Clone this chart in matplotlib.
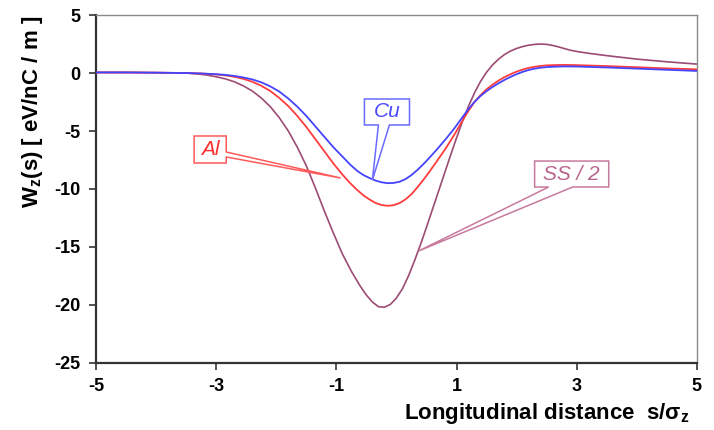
import matplotlib
matplotlib.use('Agg')
import matplotlib.pyplot as plt
from matplotlib.patches import Polygon

plt.rcParams['font.family'] = ['Liberation Sans', 'DejaVu Sans']
plt.rcParams['mathtext.fontset'] = 'custom'
plt.rcParams['mathtext.rm'] = 'Liberation Sans:bold'
plt.rcParams['mathtext.default'] = 'rm'

# longitudinal wake (s in units of sigma_z)
s_cu = [-5, -4.5, -4, -3.5, -3.25, -3.0, -2.85, -2.7, -2.55, -2.4, -2.25, -2.1, -1.95, -1.8,
        -1.65, -1.5, -1.35, -1.2, -1.05, -0.9, -0.77, -0.65, -0.55, -0.45, -0.35, -0.25,
        -0.15, -0.05, 0.05, 0.15, 0.25, 0.35, 0.45, 0.55, 0.68, 0.82, 0.96, 1.1, 1.2, 1.3,
        1.4, 1.5, 1.6, 1.7, 1.8, 1.9, 2.0, 2.1, 2.2, 2.3, 2.4, 2.5, 2.6, 2.8, 3.0, 3.5,
        4.0, 4.5, 5.0]
w_cu = [0.05, 0.05, 0.03, 0.0, -0.04, -0.1, -0.16, -0.25, -0.38, -0.55, -0.8, -1.15, -1.6, -2.2,
        -2.9, -3.7, -4.6, -5.5, -6.4, -7.2, -7.9, -8.45, -8.8, -9.05, -9.27, -9.42,
        -9.5, -9.48, -9.38, -9.15, -8.8, -8.35, -7.85, -7.3, -6.55, -5.7, -4.8, -3.8, -3.1, -2.48,
        -1.98, -1.56, -1.2, -0.88, -0.59, -0.33, -0.1, 0.1, 0.26, 0.38, 0.46, 0.51, 0.54, 0.57, 0.56, 0.48,
        0.38, 0.28, 0.18]

s_al = [-5, -4.5, -4, -3.5, -3.25, -3.0, -2.85, -2.7, -2.55, -2.4, -2.25, -2.1, -1.95, -1.8,
        -1.65, -1.5, -1.35, -1.2, -1.05, -0.9, -0.77, -0.65, -0.55, -0.45, -0.35, -0.25,
        -0.15, -0.05, 0.05, 0.15, 0.25, 0.35, 0.45, 0.55, 0.68, 0.82, 0.96, 1.1, 1.2, 1.3,
        1.4, 1.5, 1.6, 1.7, 1.8, 1.9, 2.0, 2.1, 2.2, 2.3, 2.4, 2.5, 2.65, 2.8, 3.0, 3.5,
        4.0, 4.5, 5.0]
w_al = [0.05, 0.05, 0.03, 0.0, -0.04, -0.12, -0.2, -0.32, -0.5, -0.75, -1.1, -1.55, -2.15, -2.85,
        -3.7, -4.65, -5.7, -6.75, -7.8, -8.75, -9.5, -10.1, -10.55, -10.9, -11.2, -11.38,
        -11.45, -11.4, -11.22, -10.9, -10.45, -9.85, -9.2, -8.5, -7.55, -6.5, -5.35, -4.1, -3.25, -2.5,
        -1.9, -1.4, -1.0, -0.65, -0.35, -0.1, 0.12, 0.3, 0.44, 0.54, 0.61, 0.66, 0.69, 0.7, 0.68, 0.6,
        0.5, 0.4, 0.32]

s_ss = [-5, -4.5, -4, -3.5, -3.3, -3.15, -3.0, -2.85, -2.7, -2.55, -2.4, -2.25, -2.1, -1.95,
        -1.8, -1.65, -1.5, -1.35, -1.2, -1.05, -0.9, -0.75, -0.6, -0.5, -0.4, -0.3, -0.2,
        -0.1, 0.0, 0.1, 0.2, 0.3, 0.4, 0.5, 0.6, 0.7, 0.8, 0.9, 1.0, 1.1, 1.2, 1.3, 1.4,
        1.5, 1.6, 1.7, 1.8, 1.9, 2.0, 2.1, 2.2, 2.3, 2.4, 2.5, 2.6, 2.7, 2.8, 2.9, 3.0,
        3.2, 3.5, 4.0, 4.5, 5.0]
w_ss = [0.05, 0.05, 0.03, 0.0, -0.08, -0.18, -0.32, -0.5, -0.75, -1.1, -1.55, -2.15, -2.9, -3.85,
        -5.0, -6.4, -8.0, -9.9, -11.9, -13.8, -15.6, -17.1, -18.4, -19.15, -19.75, -20.15, -20.2,
        -19.95, -19.4, -18.6, -17.5, -16.2, -14.8, -13.3, -11.75, -10.2, -8.65, -7.1, -5.6, -4.15, -2.85, -1.7, -0.72,
        0.07, 0.7, 1.2, 1.6, 1.9, 2.12, 2.28, 2.4, 2.47, 2.5, 2.47, 2.38, 2.25, 2.1, 1.96, 1.86,
        1.7, 1.5, 1.2, 0.97, 0.77]

x_ticks = [-5, -3, -1, 1, 3, 5]
y_ticks = [-25, -20, -15, -10, -5, 0, 5]

c_cu, c_al, c_ss = '#4444ff', '#ff3c3c', '#9c4c74'


def callout(ax, box, base, tip, label, color, txtcolor):
    # box = (x0, y0, x1, y1); base = two points on the box edge; tip = pointed end
    x0, y0, x1, y1 = box
    b1, b2 = base
    if b1[1] == y0:      # pointer from bottom edge
        pts = [(x0, y1), (x1, y1), (x1, y0), b2, tip, b1, (x0, y0)]
    else:                # pointer from right edge
        pts = [(x0, y1), (x1, y1), b1, tip, b2, (x1, y0), (x0, y0)]
    ax.add_patch(Polygon(pts, closed=True, fc='white', ec=color, lw=1.1, zorder=5))
    ax.text((x0 + x1) / 2, (y0 + y1) / 2, label, color=txtcolor, style='italic',
            fontsize=15, ha='center', va='center', zorder=6)


fig = plt.figure(figsize=(7.14, 4.30), dpi=100)
ax = fig.add_axes([0.1345, 0.156, 0.8415, 0.809])

ax.plot(s_ss, w_ss, color=c_ss, lw=1.2, zorder=2)
ax.plot(s_al, w_al, color=c_al, lw=1.3, zorder=3)
ax.plot(s_cu, w_cu, color=c_cu, lw=1.3, zorder=4)

callout(ax, (-0.533, -4.48, 0.217, -2.24), ((-0.3, -4.48), (-0.117, -4.48)), (-0.4, -9.22),
        'Cu', '#6a6aff', '#4a4aff')
callout(ax, (-3.367, -7.76, -2.833, -5.43), ((-2.833, -6.81), (-2.833, -7.24)), (-0.93, -9.05),
        'Al', '#ff5a5a', '#ff3030')
callout(ax, (2.3, -9.83, 3.533, -7.59), ((2.533, -9.83), (2.933, -9.83)), (0.367, -15.35),
        'SS / 2', '#c77a9c', '#b8648c')

ax.set_xlim(-5, 5)
ax.set_ylim(-25, 5)
ax.set_xticks(x_ticks)
ax.set_yticks(y_ticks)
ax.set_xticklabels([str(t) for t in x_ticks], fontweight='bold', fontsize=13)
ax.set_yticklabels([str(t) for t in y_ticks], fontweight='bold', fontsize=13)
ax.tick_params(direction='out', length=5, width=1.2, color='#333333', pad=6)

for side in ('left', 'bottom'):
    ax.spines[side].set_color('#333333')
    ax.spines[side].set_linewidth(1.6)
for side in ('top', 'right'):
    ax.spines[side].set_color('#8a8a8a')
    ax.spines[side].set_linewidth(1.0)

fig.text(0.046, 1 - 112 / 430, 'W$_z$(s) [ eV/nC / m ]', rotation=90, ha='center', va='center',
         fontsize=16, fontweight='bold')
fig.text(690 / 714, 1 - 413 / 430, 'Longitudinal distance  s/σ$_z$', ha='right', va='center',
         fontsize=16, fontweight='bold')

fig.savefig('out.png', dpi=100)
